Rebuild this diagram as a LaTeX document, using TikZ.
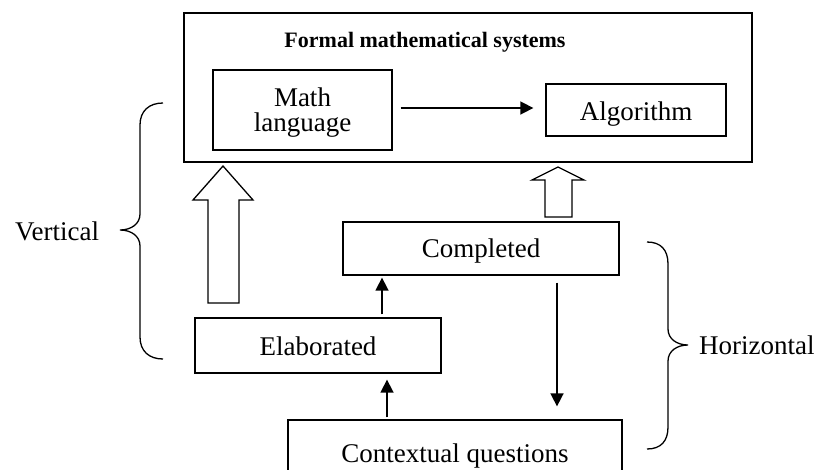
\documentclass[tikz,border=0pt]{standalone}
\usepackage{fontspec}
\setmainfont{Liberation Serif}
\usetikzlibrary{arrows.meta,calc}
\begin{document}
\begin{tikzpicture}[x=1pt,y=-1pt,
  every node/.style={font=\fontsize{27}{27}\selectfont},
  box/.style={draw, line width=1.3pt, inner sep=0pt, align=center},
  lbl/.style={inner sep=0pt, anchor=base},
  arr/.style={line width=1.6pt, -{Triangle[length=13pt,width=13pt]}},
  hollow/.style={draw, line width=1.3pt, fill=white, line join=miter},
  brace/.style={line width=1.3pt}]
\useasboundingbox (0,0) rectangle (821,469);
% outer box
\node[box, minimum width=568pt, minimum height=149pt] (outer) at (468,87.5) {};
\node[lbl, font=\fontsize{22}{22}\selectfont\bfseries] (title) at (425,47) {Formal mathematical systems};
% inner boxes
\node[box, minimum width=179pt, minimum height=80pt] (math) at (302.5,110) {};
\node[lbl] (mathA) at (302.5,106) {Math};
\node[lbl] (mathB) at (302.5,131) {language};
\node[box, minimum width=180pt, minimum height=52pt] (algo) at (636,110) {};
\node[lbl] (algoT) at (636,120) {Algorithm};
\node[box, minimum width=276pt, minimum height=53pt] (comp) at (481,248.5) {};
\node[lbl] (compT) at (481,257) {Completed};
\node[box, minimum width=246pt, minimum height=55pt] (elab) at (318,345.5) {};
\node[lbl] (elabT) at (318,355) {Elaborated};
\node[box, minimum width=334pt, minimum height=60pt] (ctx) at (455,450) {};
\node[lbl] (ctxT) at (455,462) {Contextual questions};
\node[lbl] (vert) at (57,240) {Vertical};
\node[lbl, anchor=base west] (horiz) at (699,354) {Horizontal};
% connector x positions
\coordinate (xa) at (382,0);
\coordinate (xb) at (387,0);
\coordinate (xc) at (557,0);
\coordinate (ya) at (0,108);
% arrows
\draw[arr] ([xshift=8pt]math.east |- ya) -- ([xshift=-12pt]algo.west |- ya);
\draw[arr] ([yshift=3pt]elab.north -| xa) -- ([yshift=-2pt]comp.south -| xa);
\draw[arr] ([yshift=2pt]ctx.north -| xb) -- ([yshift=-6pt]elab.south -| xb);
\draw[arr] ([yshift=-7pt]comp.south -| xc) -- ([yshift=13pt]ctx.north -| xc);
% hollow arrows
\draw[hollow] (208,303) -- (208,200) -- (193,200) -- (223,166) -- (253,200) -- (239,200) -- (239,303) -- cycle;
\draw[hollow] (545,217) -- (545,180) -- (532,180) -- (558,167) -- (584,180) -- (572,180) -- (572,217) -- cycle;
% braces
\draw[brace] (163,103) .. controls (149,103) and (140,111) .. (140,125) -- (140,214)
  .. controls (140,224) and (131,230) .. (120,230)
  .. controls (131,230) and (140,236) .. (140,246) -- (140,337)
  .. controls (140,351) and (149,359) .. (163,359);
\draw[brace] (647,242) .. controls (661,242) and (668,250) .. (668,264) -- (668,329)
  .. controls (668,339) and (677,345) .. (688,345)
  .. controls (677,345) and (668,351) .. (668,361) -- (668,427)
  .. controls (668,441) and (661,449) .. (647,449);
\end{tikzpicture}
\end{document}
